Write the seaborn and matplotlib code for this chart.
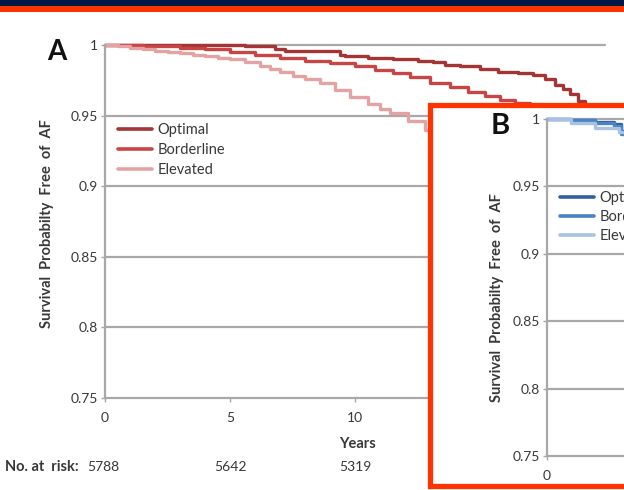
import matplotlib
matplotlib.use("Agg")
import matplotlib.pyplot as plt
from matplotlib.patches import Rectangle
import seaborn as sns
import pandas as pd

# ---- data ----
groups = ["Optimal", "Borderline", "Elevated"]

a_opt_t = [0, 5.6, 6.8, 7.2, 9.4, 9.6, 10.5, 11.5, 12.5, 13.1, 13.6, 14.2, 15.0, 15.7,
           16.5, 17.1, 17.6, 18.0, 18.3, 18.6, 18.9, 19.2, 19.5, 19.8]
a_opt_s = [1.0, 0.999, 0.997, 0.996, 0.993, 0.992, 0.991, 0.990, 0.989, 0.988, 0.986,
           0.985, 0.983, 0.981, 0.980, 0.979, 0.976, 0.972, 0.969, 0.965, 0.960, 0.956,
           0.952, 0.948]

a_bor_t = [0, 1.5, 3.0, 4.0, 5.0, 6.0, 7.0, 8.0, 9.0, 10.0, 10.8, 11.5, 12.2, 13.0,
           13.8, 14.5, 15.2, 15.8, 16.4, 17.0, 18.0]
a_bor_s = [1.0, 0.999, 0.998, 0.997, 0.995, 0.993, 0.991, 0.989, 0.987, 0.985, 0.982,
           0.980, 0.977, 0.973, 0.970, 0.967, 0.964, 0.961, 0.959, 0.957, 0.950]

a_ele_t = [0, 0.5, 1.0, 1.5, 2.0, 2.5, 3.0, 3.5, 4.0, 4.5, 5.0, 5.6, 6.2, 6.6, 7.0, 7.5,
           8.0, 8.6, 9.2, 9.8, 10.5, 11.0, 11.4, 12.1, 12.8, 13.5, 14.5]
a_ele_s = [1.0, 0.9995, 0.998, 0.997, 0.996, 0.995, 0.994, 0.993, 0.992, 0.991, 0.990,
           0.988, 0.985, 0.983, 0.981, 0.978, 0.976, 0.973, 0.968, 0.963, 0.958, 0.955,
           0.952, 0.946, 0.940, 0.935, 0.928]

b_opt_t = [0, 1.0, 2.0, 2.8, 3.1, 3.5, 5.0]
b_opt_s = [1.0, 0.9995, 0.998, 0.996, 0.991, 0.986, 0.980]
b_bor_t = [0, 1.0, 2.0, 2.8, 3.1, 3.5, 5.0]
b_bor_s = [1.0, 0.999, 0.997, 0.995, 0.989, 0.984, 0.977]
b_ele_t = [0, 1.0, 2.0, 3.0, 3.5, 5.0]
b_ele_s = [1.0, 0.997, 0.993, 0.990, 0.986, 0.978]

y_ticks = [0.75, 0.8, 0.85, 0.9, 0.95, 1.0]
y_ticklabels = ["0.75", "0.8", "0.85", "0.9", "0.95", "1"]
x_ticks = [0, 5, 10, 15, 20]
at_risk_t = [0, 5, 10]
at_risk_n = ["5788", "5642", "5319"]

red_pal = {"Optimal": "#a33535", "Borderline": "#c84545", "Elevated": "#e3a3a3"}
blue_pal = {"Optimal": "#33609c", "Borderline": "#4a82c8", "Elevated": "#a9c1e2"}


def long_form(ts, ss):
    rows = []
    for g, t, s in zip(groups, ts, ss):
        rows.append(pd.DataFrame({"time": t, "surv": s, "group": g}))
    return pd.concat(rows, ignore_index=True)


dfa = long_form([a_opt_t, a_bor_t, a_ele_t], [a_opt_s, a_bor_s, a_ele_s])
dfb = long_form([b_opt_t, b_bor_t, b_ele_t], [b_opt_s, b_bor_s, b_ele_s])

sns.set_style("white")
plt.rcParams["font.family"] = ["Lato", "DejaVu Sans"]

W, H = 624, 490
fig = plt.figure(figsize=(W / 100, H / 100), dpi=100)


def box(x0, y0, x1, y1):
    # pixel box (top-left origin) -> figure fraction rect
    return [x0 / W, 1 - y1 / H, (x1 - x0) / W, (y1 - y0) / H]


grid_c = "#a8a8a8"
txt_c = "#383838"
FS = 10.5
YLAB = "Survival  Probabilty  Free  of  AF"


def style_axes(ax, pal):
    ax.set_xlim(0, 20)
    ax.set_ylim(0.75, 1.0)
    ax.set_yticks(y_ticks)
    ax.set_yticklabels(y_ticklabels)
    ax.set_xticks(x_ticks)
    ax.set_xticklabels([str(v) for v in x_ticks])
    for s in ["top", "right"]:
        ax.spines[s].set_visible(False)
    for s in ["left", "bottom"]:
        ax.spines[s].set_color(grid_c)
        ax.spines[s].set_linewidth(1.6)
    for y in y_ticks[1:]:
        ax.axhline(y, color=grid_c, lw=1.6, zorder=0.5, clip_on=False)
    ax.tick_params(axis="both", colors=grid_c, labelcolor=txt_c, labelsize=FS - 0.5,
                   length=3, width=1, direction="out", bottom=True, left=True, pad=2)
    ax.tick_params(axis="x", pad=7)
    ax.set_xlabel("")
    ax.set_ylabel("")
    handles = [plt.Line2D([], [], color=pal[g], lw=2.6) for g in groups]
    return handles


# ---- panel A ----
axA = fig.add_axes(box(105, 45, 605, 398), zorder=0)
sns.lineplot(data=dfa, x="time", y="surv", hue="group", palette=red_pal,
             estimator=None, sort=False, drawstyle="steps-post", lw=2.4,
             legend=False, ax=axA, clip_on=False)
hA = style_axes(axA, red_pal)
axA.legend(hA, groups, loc="upper left", bbox_to_anchor=(0.0, 0.815), frameon=False,
           fontsize=FS, handlelength=2.3, handletextpad=0.4, labelspacing=0.4,
           labelcolor=txt_c)
fig.text(57 / W, 1 - 52 / H, "A", fontsize=20, fontweight="bold", ha="center",
         va="center", color="#111111")
fig.text(47 / W, 1 - 224 / H, YLAB, rotation=90,
         fontsize=FS, fontweight="bold", ha="center", va="center", color=txt_c)
fig.text(357 / W, 1 - 444 / H, "Years", fontsize=FS, fontweight="bold",
         ha="center", va="center", color=txt_c)
fig.text(5 / W, 1 - 467 / H, "No. at  risk:", fontsize=FS, fontweight="bold",
         ha="left", va="center", color=txt_c)
for t, n in zip(at_risk_t, at_risk_n):
    xpix = 105 + t * 25.05
    if t == 0:
        xpix = 103
    fig.text(xpix / W, 1 - 467 / H, n, fontsize=FS - 0.5, ha="center", va="center",
             color=txt_c)

# ---- panel B frame ----
fig.patches.append(Rectangle((429.5 / W, 1 - 486 / H), 220 / W, 381 / H,
                             transform=fig.transFigure, facecolor="white",
                             edgecolor="#ff3300", lw=3.8, zorder=1))

# ---- panel B ----
axB = fig.add_axes(box(547, 119, 547 + 480, 456), zorder=2)
axB.patch.set_alpha(0)
sns.lineplot(data=dfb, x="time", y="surv", hue="group", palette=blue_pal,
             estimator=None, sort=False, drawstyle="steps-post", lw=2.4,
             legend=False, ax=axB, clip_on=False)
hB = style_axes(axB, blue_pal)
axB.legend(hB, groups, loc="upper left", bbox_to_anchor=(0.0, 0.825), frameon=False,
           fontsize=FS, handlelength=2.3, handletextpad=0.4, labelspacing=0.35,
           labelcolor=txt_c)
fig.text(500 / W, 1 - 126 / H, "B", fontsize=21, fontweight="bold", ha="center",
         va="center", color="#111111", zorder=3)
fig.text(497 / W, 1 - 298 / H, YLAB, rotation=90,
         fontsize=FS, fontweight="bold", ha="center", va="center", color=txt_c,
         zorder=3)

# ---- top bands ----
fig.patches.append(Rectangle((0, 1 - 6 / H), 1, 6 / H, transform=fig.transFigure,
                             facecolor="#001848", edgecolor="none", zorder=5))
fig.patches.append(Rectangle((0, 1 - 12 / H), 1, 6 / H, transform=fig.transFigure,
                             facecolor="#ff3300", edgecolor="none", zorder=5))

fig.savefig("out.png", dpi=100)
